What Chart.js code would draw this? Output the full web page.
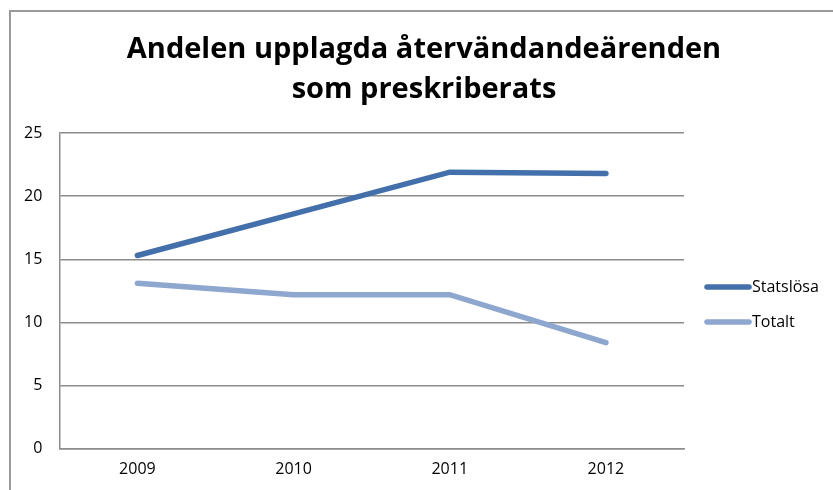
<!DOCTYPE html>
<html lang="sv">
<head>
    <meta charset="UTF-8">
    <title>Andelen upplagda återvändandeärenden som preskriberats</title>
    <script src="https://cdn.jsdelivr.net/npm/chart.js"></script>
    <style>
        html, body { margin: 0; padding: 0; background: #fff; overflow: hidden; }
        #wrap { position: relative; width: 833px; height: 490px; overflow: hidden; }
        #ram { position: absolute; left: 9px; top: 10px; width: 900px; height: 600px;
               border-top: 2px solid #9a9a9a; border-left: 2px solid #9a9a9a; }
        canvas { position: absolute; left: 0; top: 0; }
    </style>
</head>
<body>
<div id="wrap">
    <div id="ram"></div>
    <canvas id="chart" width="833" height="490"></canvas>
</div>
<script>
// data
var ar = ["2009", "2010", "2011", "2012"];
var statslosa = [15.3, 18.6, 21.9, 21.8];
var totalt = [13.1, 12.2, 12.2, 8.4];
var rubrik = ["Andelen upplagda återvändandeärenden", "som preskriberats"];

// rubrik centrerad över hela diagrammet + legend till höger (linje + text, som i Excel)
var excelPlugin = {
    id: "excelDelar",
    afterDraw: function(chart) {
        var c = chart.ctx;
        c.save();
        c.fillStyle = "#000";
        c.textAlign = "center";
        c.textBaseline = "middle";
        c.font = "bold 29px 'Open Sans'";
        rubrik.forEach(function(rad, i) {
            c.fillText(rad, 424, 50 + i * 40);
        });

        c.textAlign = "left";
        c.font = "16px 'Open Sans'";
        chart.data.datasets.forEach(function(ds, i) {
            var y = 287 + i * 35;
            c.strokeStyle = ds.borderColor;
            c.lineWidth = 5.5;
            c.lineCap = "round";
            c.beginPath();
            c.moveTo(707, y);
            c.lineTo(749, y);
            c.stroke();
            c.fillText(ds.label, 752, y);
        });
        c.restore();
    }
};

var ctx = document.getElementById("chart").getContext("2d");
new Chart(ctx, {
    type: "line",
    data: {
        labels: ar,
        datasets: [{
            label: "Statslösa",
            data: statslosa,
            borderColor: "#4370aa",
            backgroundColor: "#4370aa",
            borderWidth: 5.5,
            borderCapStyle: "round",
            pointRadius: 0,
            tension: 0
        }, {
            label: "Totalt",
            data: totalt,
            borderColor: "#8da7cf",
            backgroundColor: "#8da7cf",
            borderWidth: 5.5,
            borderCapStyle: "round",
            pointRadius: 0,
            tension: 0
        }]
    },
    plugins: [excelPlugin],
    options: {
        responsive: false,
        animation: false,
        layout: { padding: { left: 7, right: 149, top: 133, bottom: 0 } },
        plugins: {
            title: { display: false },
            legend: { display: false },
            tooltip: { enabled: false }
        },
        scales: {
            x: {
                offset: true,
                grid: { display: false, drawTicks: false },
                border: { display: true, color: "#8c8c8c", width: 1.5 },
                ticks: { color: "#000", font: { family: "Open Sans", size: 16 }, padding: 11 }
            },
            y: {
                min: 0,
                max: 25,
                ticks: { stepSize: 5, color: "#000", font: { family: "Open Sans", size: 16 }, padding: 17 },
                grid: { color: "#8c8c8c", lineWidth: 1.5, drawTicks: false },
                border: { display: true, color: "#8c8c8c", width: 1.5 }
            }
        }
    }
});
</script>
</body>
</html>
